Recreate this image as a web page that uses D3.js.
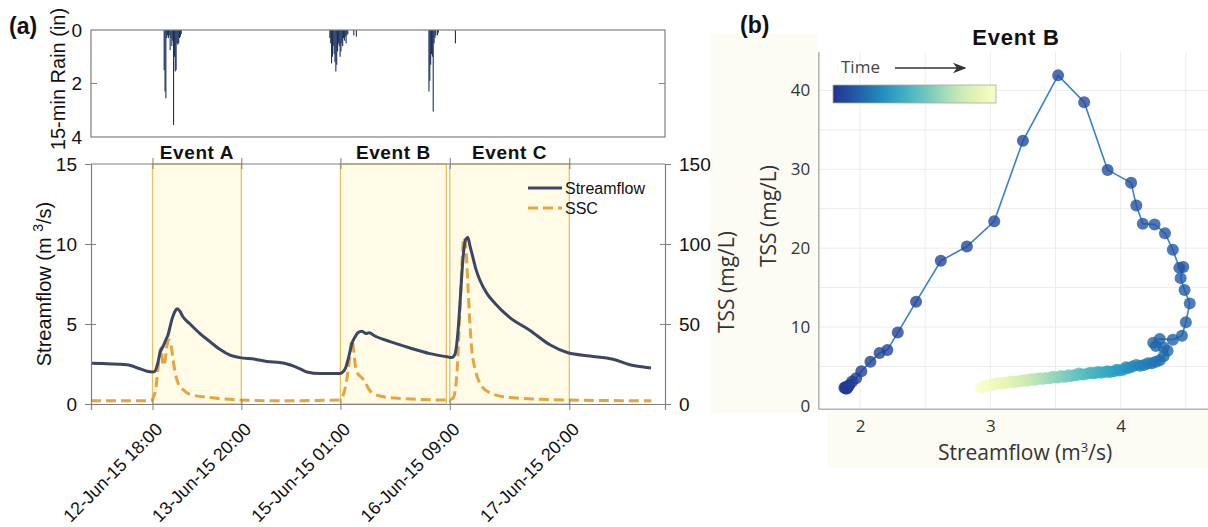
<!DOCTYPE html>
<html>
<head>
<meta charset="utf-8">
<script src="https://cdn.jsdelivr.net/npm/d3@7"></script>
<style>
  body { margin: 0; background: #fff; }
  svg { display: block; }
</style>
</head>
<body>
<svg id="fig" width="1208" height="527"></svg>
<script>
// ---------- data (hours counted from 12-Jun-15 00:00) ----------
const flowHours  = [0, 10.5, 14.3, 16.4, 17.9, 18.7, 19.6, 20.2, 21.1, 21.9, 22.5, 23.7, 24.6, 25.2, 26.0, 26.9, 29.0, 31.9, 34.8, 37.8, 40.7, 43.6, 48.0, 51.5, 55.3, 58.2, 61.2, 63.2, 67.0, 71.4, 72.9, 73.7, 74.6, 75.5, 76.4, 77.3, 78.1, 79.3, 80.5, 81.4, 83.1, 87.5, 93.4, 99.2, 104.2, 105.6, 106.5, 107.4, 108.0, 108.6, 109.2, 109.7, 110.3, 110.9, 111.5, 112.7, 113.8, 115.9, 118.2, 122.6, 128.5, 134.3, 139.6, 146.0, 152.8, 157.7, 162.1, 163.9];
const flowValues = [2.55, 2.45, 2.2, 2.05, 2.0, 2.05, 2.6, 3.2, 3.6, 4.0, 4.3, 5.3, 5.8, 5.95, 5.8, 5.45, 5.0, 4.4, 3.9, 3.4, 3.05, 2.9, 2.8, 2.65, 2.6, 2.45, 2.2, 2.0, 1.9, 1.9, 1.9, 2.0, 2.3, 3.0, 3.8, 4.2, 4.45, 4.55, 4.4, 4.45, 4.25, 3.9, 3.5, 3.15, 2.95, 2.9, 3.1, 4.5, 6.3, 8.3, 9.8, 10.3, 10.4, 9.9, 9.4, 8.4, 7.75, 6.9, 6.3, 5.4, 4.6, 3.7, 3.2, 3.0, 2.8, 2.45, 2.3, 2.25];

const sscHours  = [0, 17.5, 18.0, 19.0, 19.6, 20.2, 20.5, 21.1, 21.6, 22.2, 22.8, 23.4, 24.0, 24.6, 25.5, 26.9, 29.0, 34.8, 43.6, 55, 72.6, 73.7, 74.6, 75.2, 75.8, 76.3, 76.8, 77.3, 78.1, 79.0, 79.9, 81.4, 83.1, 87.5, 104, 105.9, 106.8, 107.4, 108.0, 108.6, 109.1, 109.7, 110.3, 110.9, 111.5, 112.4, 113.8, 116.7, 122.6, 140, 164];
const sscValues = [2, 2, 3, 10, 22, 33, 35, 24, 26, 36, 40, 37, 28, 20, 13, 9, 6, 4, 2.5, 2, 2.5, 5, 12, 20, 30, 40, 35, 25, 19, 17, 15, 9, 6, 4, 2.5, 3.5, 12, 30, 60, 88, 104, 98, 75, 50, 33, 22, 13, 7, 4, 2.5, 2];

const rainHours  = [21.25, 21.5, 21.75, 22.0, 22.25, 22.5, 22.75, 23.0, 23.25, 23.5, 23.75, 24.0, 24.25, 24.5, 24.75, 25.0, 25.25, 25.5, 25.75, 26.0, 26.25,
                    69.75, 70.0, 70.25, 70.5, 70.75, 71.0, 71.25, 71.5, 71.75, 72.0, 72.25, 72.5, 72.75, 73.0, 73.25, 73.5, 73.75, 74.0, 74.25, 74.5, 74.75, 75.0, 76.75, 77.5,
                    98.75, 99.0, 99.25, 99.5, 99.75, 100.0, 100.25, 100.5, 100.75, 101.25, 101.5, 106.5];
const rainValues = [1.5, 2.3, 2.55, 0.3, 0.2, 0.3, 0.2, 0.75, 0.3, 0.6, 0.4, 3.55, 1.0, 1.55, 1.5, 0.5, 0.55, 0.5, 0.3, 0.25, 0.15,
                    0.3, 0.5, 1.25, 1.0, 0.6, 0.9, 1.2, 1.55, 1.3, 0.8, 0.5, 0.6, 1.0, 0.8, 0.5, 0.6, 0.3, 0.4, 0.25, 0.5, 0.2, 0.15, 0.2, 0.25,
                    2.3, 1.9, 1.3, 0.9, 1.0, 3.05, 0.5, 0.3, 0.2, 0.2, 0.1, 0.5];

const eventNames = ["Event A", "Event B", "Event C"];
const eventStart = [18, 73, 105];
const eventEnd   = [44, 104, 140];
const dateTicks  = [18, 44, 73, 105, 140];

const flowTicks = [0, 5, 10, 15];
const tssTicks  = [0, 50, 100, 150];
const rainTicks = [0, 2, 4];

// Event B hysteresis, in time order
const hystQ   = [1.89, 1.88, 1.90, 1.89, 1.91, 1.90, 1.92, 1.94,
                 1.97, 2.01, 2.08, 2.15, 2.21, 2.29, 2.43, 2.62, 2.82, 3.03, 3.25, 3.52,
                 3.72, 3.90, 4.08, 4.12, 4.17, 4.26, 4.34, 4.40, 4.45, 4.48, 4.46, 4.49, 4.53, 4.50, 4.47, 4.40, 4.30, 4.25, 4.27, 4.33, 4.36, 4.33, 4.30,
                 4.27, 4.24, 4.21, 4.18, 4.15, 4.12, 4.09, 4.06, 4.04, 4.02, 3.99, 3.97, 3.95, 3.92, 3.90, 3.88, 3.85, 3.83, 3.81, 3.79, 3.77, 3.75, 3.72, 3.70, 3.68, 3.66, 3.64, 3.62, 3.60, 3.58, 3.56, 3.54, 3.52, 3.50, 3.48, 3.46, 3.44, 3.42, 3.40, 3.38, 3.36, 3.34, 3.32, 3.30, 3.28, 3.26, 3.24, 3.22, 3.20, 3.18, 3.16, 3.14, 3.12, 3.10, 3.08, 3.06, 3.04, 3.02, 3.00, 2.98, 2.96, 2.94, 2.93];
const hystTSS = [2.2, 2.3, 2.2, 2.4, 2.5, 2.3, 2.7, 3.1,
                 3.5, 4.4, 5.6, 6.7, 7.1, 9.3, 13.2, 18.4, 20.2, 23.4, 33.6, 41.9,
                 38.5, 29.9, 28.3, 25.4, 23.1, 23.0, 21.9, 19.8, 17.5, 17.6, 16.2, 14.7, 13.0, 10.6, 8.9, 8.4, 8.5, 8.0, 7.6, 7.4, 7.0, 6.3, 5.8,
                 5.6, 5.4, 5.4, 5.2, 5.1, 5.2, 5.0, 4.8, 4.9, 4.6, 4.5, 4.6, 4.4, 4.3, 4.4, 4.3, 4.2, 4.3, 4.2, 4.1, 4.2, 4.1, 4.0, 4.0, 4.1, 3.9, 3.9, 3.8, 3.9, 3.7, 3.7, 3.8, 3.6, 3.6, 3.7, 3.5, 3.5, 3.5, 3.4, 3.5, 3.4, 3.3, 3.4, 3.3, 3.2, 3.3, 3.2, 3.1, 3.1, 3.0, 3.1, 3.0, 2.9, 2.9, 2.8, 2.9, 2.8, 2.7, 2.7, 2.6, 2.5, 2.4, 2.3];
const loopEnd = 42;   // last point of the loop before the long recession
const hystQTicks = [2, 3, 4];
const hystTSSTicks = [0, 10, 20, 30, 40];

// ---------- setup ----------
const svg = d3.select("#fig");
const fontA = "'Liberation Sans', Arial, Helvetica, sans-serif";
const fontB = "'Open Sans', sans-serif";
const axisGrey = "#808080";
const t0 = new Date(2015, 5, 12, 0, 0);
const hr = h => new Date(+t0 + h * 3600e3);

// ---------- panel (a) ----------
const L = 91, R = 665;
const x = d3.scaleTime().domain([hr(0), hr(168)]).range([L, R]);
const yRain = d3.scaleLinear().domain([0, 4]).range([30, 137]);
const yFlow = d3.scaleLinear().domain([0, 15]).range([404, 164]);
const yTss  = d3.scaleLinear().domain([0, 150]).range([404, 164]);

const a = svg.append("g").style("font-family", fontA);

// event shading
eventNames.forEach((name, i) => {
  a.append("rect")
    .attr("x", x(hr(eventStart[i]))).attr("y", yFlow(15))
    .attr("width", x(hr(eventEnd[i])) - x(hr(eventStart[i])))
    .attr("height", yFlow(0) - yFlow(15))
    .attr("fill", "#fffbe6").attr("stroke", "#e9c35c").attr("stroke-width", 1.3);
  a.append("text")
    .attr("x", (x(hr(eventStart[i])) + x(hr(eventEnd[i]))) / 2).attr("y", 159)
    .attr("text-anchor", "middle").attr("font-size", 19).attr("font-weight", "bold")
    .attr("letter-spacing", 0.6).attr("fill", "#111").text(name);
});

// rain bars
a.append("g").selectAll("rect")
  .data(rainHours.map((h, i) => ({ h, v: rainValues[i] })))
  .join("rect")
  .attr("x", d => x(hr(d.h)))
  .attr("y", yRain(0))
  .attr("width", d => Math.max(1.1, x(hr(d.h + 0.25)) - x(hr(d.h))))
  .attr("height", d => yRain(d.v) - yRain(0))
  .attr("fill", "#1b335c");

// rain frame + axis
a.append("rect").attr("x", L).attr("y", 30).attr("width", R - L).attr("height", 107)
  .attr("fill", "none").attr("stroke", axisGrey).attr("stroke-width", 1.2);
const rainAxis = a.append("g").attr("transform", `translate(${L},0)`)
  .call(d3.axisLeft(yRain).tickValues(rainTicks).tickFormat(d3.format("d")).tickSize(0).tickPadding(9));
rainAxis.select(".domain").remove();
rainAxis.selectAll(".tick text").attr("fill", "#111").attr("font-size", 19).attr("font-family", fontA);
a.append("line").attr("x1", L).attr("x2", L + 6).attr("y1", yRain(2)).attr("y2", yRain(2)).attr("stroke", axisGrey);
a.append("line").attr("x1", R - 6).attr("x2", R).attr("y1", yRain(2)).attr("y2", yRain(2)).attr("stroke", axisGrey);

// lines
const flowLine = d3.line().curve(d3.curveMonotoneX)
  .x((d, i) => x(hr(flowHours[i]))).y(d => yFlow(d));
const sscLine = d3.line().curve(d3.curveMonotoneX)
  .x((d, i) => x(hr(sscHours[i]))).y(d => yTss(d));

a.append("path").datum(sscValues).attr("d", sscLine)
  .attr("fill", "none").attr("stroke", "#e5a43e").attr("stroke-width", 3)
  .attr("stroke-dasharray", "10,5");
a.append("path").datum(flowValues).attr("d", flowLine)
  .attr("fill", "none").attr("stroke", "#3c4662").attr("stroke-width", 3);

// main frame
a.append("line").attr("x1", L).attr("x2", R).attr("y1", 164).attr("y2", 164).attr("stroke", axisGrey).attr("stroke-width", 1.2);

const leftAx = a.append("g").attr("transform", `translate(${L},0)`)
  .call(d3.axisLeft(yFlow).tickValues(flowTicks).tickFormat(d3.format("d")).tickSize(6).tickPadding(8));
const rightAx = a.append("g").attr("transform", `translate(${R},0)`)
  .call(d3.axisRight(yTss).tickValues(tssTicks).tickFormat(d3.format("d")).tickSize(6).tickPadding(8));
const bottomAx = a.append("g").attr("transform", `translate(0,404)`)
  .call(d3.axisBottom(x).tickValues(dateTicks.map(hr)).tickSize(6).tickFormat(d3.timeFormat("%d-%b-%y %H:%M")));
const topAx = a.append("g").attr("transform", `translate(0,164)`)
  .call(d3.axisTop(x).tickValues(dateTicks.map(hr)).tickSize(6).tickFormat(""));
topAx.select(".domain").remove();

[leftAx, rightAx, bottomAx, topAx].forEach(g => {
  g.select(".domain").attr("stroke", axisGrey).attr("stroke-width", 1.2);
  g.selectAll(".tick line").attr("stroke", axisGrey);
  g.selectAll(".tick text").attr("fill", "#111").attr("font-size", 19).attr("font-family", fontA);
});
leftAx.selectAll(".tick line").attr("x1", 5);
rightAx.selectAll(".tick line").attr("x1", -5);
bottomAx.selectAll(".tick line").attr("y1", -5);
topAx.selectAll(".tick line").attr("y1", 5);
leftAx.selectAll(".tick").filter(d => d === 0 || d === 15).select("line").attr("x1", 0);
rightAx.selectAll(".tick").filter(d => d === 0 || d === 150).select("line").attr("x1", 0);

bottomAx.selectAll(".tick text")
  .attr("text-anchor", "end").attr("x", 0).attr("y", 0).attr("dy", "0.35em")
  .attr("font-size", 18)
  .attr("transform", "translate(6,22) rotate(-45)");

// axis titles
a.append("text").attr("transform", "translate(65,79) rotate(-90)")
  .attr("text-anchor", "middle").attr("font-size", 20).attr("fill", "#111").text("15-min Rain (in)");
const ql = a.append("text").attr("transform", "translate(51,284) rotate(-90)")
  .attr("text-anchor", "middle").attr("font-size", 20).attr("fill", "#111");
ql.append("tspan").text("Streamflow (m ");
ql.append("tspan").attr("dy", -8).attr("font-size", 14).text("3");
ql.append("tspan").attr("dy", 8).text("/s)");

// legend
const leg = a.append("g");
leg.append("line").attr("x1", 528).attr("x2", 562).attr("y1", 188).attr("y2", 188)
  .attr("stroke", "#3c4662").attr("stroke-width", 3);
leg.append("line").attr("x1", 528).attr("x2", 562).attr("y1", 208).attr("y2", 208)
  .attr("stroke", "#e5a43e").attr("stroke-width", 3).attr("stroke-dasharray", "10,5");
leg.append("text").attr("x", 565).attr("y", 194).attr("font-size", 16).attr("fill", "#111").text("Streamflow");
leg.append("text").attr("x", 565).attr("y", 214).attr("font-size", 16).attr("fill", "#111").text("SSC");

svg.append("text").attr("x", 9).attr("y", 34).attr("font-family", fontA)
  .attr("font-size", 23).attr("font-weight", "bold").attr("fill", "#111").text("(a)");

// ---------- panel (b) ----------
const b = svg.append("g").style("font-family", fontB);
// cream backdrops from the composite image
b.append("rect").attr("x", 711).attr("y", 33).attr("width", 106).attr("height", 380).attr("fill", "#fdfcf4");
b.append("rect").attr("x", 827).attr("y", 411).attr("width", 381).attr("height", 57).attr("fill", "#fdfcf4");

const bx = d3.scaleLinear().domain([1.68, 4.67]).range([818.3, 1208]);
const by = d3.scaleLinear().domain([-0.35, 44.9]).range([408.7, 51.7]);

// grid every half unit / 5 mg/L
const gridX = d3.range(2, 4.6, 0.5);
const gridY = d3.range(5, 45, 5);
b.append("g").selectAll("line").data(gridX).join("line")
  .attr("x1", d => bx(d)).attr("x2", d => bx(d)).attr("y1", by.range()[1]).attr("y2", by.range()[0])
  .attr("stroke", "#ececec").attr("stroke-width", 1);
b.append("g").selectAll("line").data(gridY).join("line")
  .attr("x1", bx.range()[0]).attr("x2", bx.range()[1]).attr("y1", d => by(d)).attr("y2", d => by(d))
  .attr("stroke", "#ececec").attr("stroke-width", 1);

const xb = b.append("g").attr("transform", "translate(0,408.7)")
  .call(d3.axisBottom(bx).tickValues(hystQTicks).tickFormat(d3.format("d")).tickSize(0).tickPadding(11).tickSizeOuter(0));
const yb = b.append("g").attr("transform", "translate(818.3,0)")
  .call(d3.axisLeft(by).tickValues(hystTSSTicks).tickFormat(d3.format("d")).tickSize(0).tickPadding(8).tickSizeOuter(0));
[xb, yb].forEach(g => {
  g.select(".domain").attr("stroke", "#b4b4b4").attr("stroke-width", 1.6);
  g.selectAll(".tick text").attr("fill", "#333").attr("font-size", 17).attr("font-family", fontB);
});

// colour along time
const colorT = d3.scaleLinear().domain([0, loopEnd, hystQ.length - 1]).range([0.88, 0.72, 0.05]);
const pts = hystQ.map((q, i) => ({ q, c: hystTSS[i], i }));

b.append("path").datum(pts)
  .attr("d", d3.line().x(d => bx(d.q)).y(d => by(d.c)))
  .attr("fill", "none").attr("stroke", "#3683c6").attr("stroke-width", 1.6);
b.append("g").selectAll("circle").data(pts).join("circle")
  .attr("cx", d => bx(d.q)).attr("cy", d => by(d.c)).attr("r", 6)
  .attr("fill", d => d3.interpolateYlGnBu(colorT(d.i))).attr("fill-opacity", 0.8);

// titles
b.append("text").attr("x", 1016).attr("y", 45).attr("text-anchor", "middle")
  .attr("font-family", fontA).attr("font-size", 22).attr("font-weight", "bold")
  .attr("letter-spacing", 0.8).attr("fill", "#111").text("Event B");
const xt = b.append("text").attr("x", 1025).attr("y", 460).attr("text-anchor", "middle")
  .attr("font-size", 21).attr("fill", "#333");
xt.append("tspan").text("Streamflow (m");
xt.append("tspan").attr("dy", -8).attr("font-size", 13).text("3");
xt.append("tspan").attr("dy", 8).text("/s)");
b.append("text").attr("transform", "translate(776,216) rotate(-90)").attr("text-anchor", "middle")
  .attr("font-size", 21).attr("fill", "#333").text("TSS (mg/L)");
// right-axis title of panel (a) sits on the same backdrop
b.append("text").attr("transform", "translate(734,282) rotate(-90)").attr("text-anchor", "middle")
  .attr("font-size", 21).attr("fill", "#333").text("TSS (mg/L)");

// time legend
const defs = svg.append("defs");
const grad = defs.append("linearGradient").attr("id", "timeGrad");
d3.range(0, 1.001, 0.1).forEach(s => {
  grad.append("stop").attr("offset", s).attr("stop-color", d3.interpolateYlGnBu(0.88 - 0.83 * s));
});
defs.append("marker").attr("id", "arrow").attr("viewBox", "0 0 10 10").attr("refX", 9).attr("refY", 5)
  .attr("markerWidth", 9).attr("markerHeight", 9).attr("orient", "auto-start-reverse")
  .append("path").attr("d", "M0,1 L10,5 L0,9 L3,5 Z").attr("fill", "#333");

b.append("text").attr("x", 841).attr("y", 73).attr("font-size", 17).attr("fill", "#444").text("Time");
b.append("line").attr("x1", 895).attr("x2", 965).attr("y1", 68).attr("y2", 68)
  .attr("stroke", "#333").attr("stroke-width", 1.5).attr("marker-end", "url(#arrow)");
b.append("rect").attr("x", 833).attr("y", 85).attr("width", 163).attr("height", 18)
  .attr("fill", "url(#timeGrad)").attr("stroke", "#a8a8a8").attr("stroke-width", 0.8);

svg.append("text").attr("x", 740).attr("y", 33).attr("font-family", fontA)
  .attr("font-size", 23).attr("font-weight", "bold").attr("fill", "#111").text("(b)");
</script>
</body>
</html>
